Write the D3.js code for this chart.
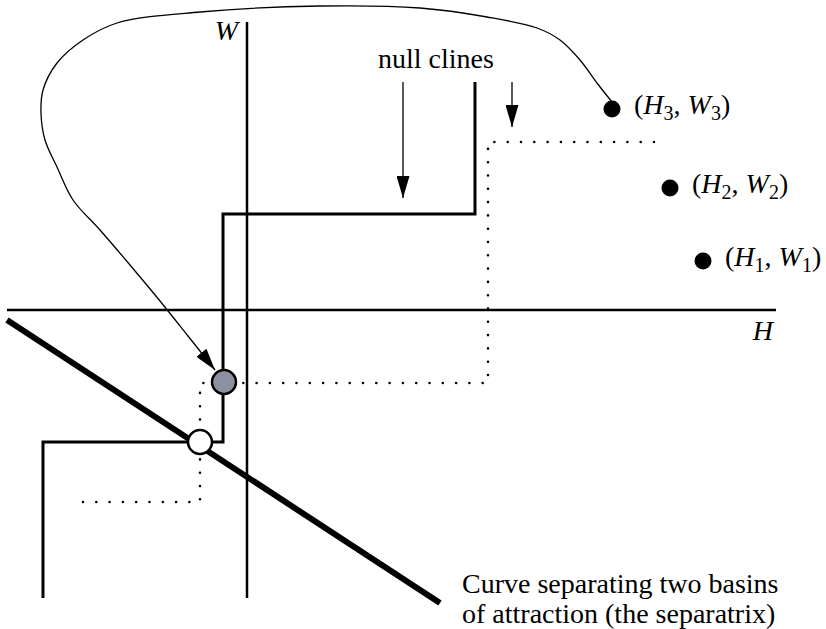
<!DOCTYPE html>
<html>
<head>
<meta charset="utf-8">
<script src="https://cdn.jsdelivr.net/npm/d3@7"></script>
<style>
  html, body { margin: 0; padding: 0; background: #fff; }
  svg text { font-family: "Liberation Serif", "Times New Roman", serif; fill: #000; }
</style>
</head>
<body>
<svg id="chart" width="826" height="629"></svg>
<script>
// ---- data (phase plane units: H horizontal, W vertical) ----
const hAxisRange = [-24.0, 52.9];
const wAxisRange = [-28.8, 28.8];
const solidNullcline = [[-20.4,-28.8],[-20.4,-13.2],[-2.4,-13.2],[-2.4,9.6],[22.8,9.6],[22.8,22.8]];
const dottedNullcline = [[-16.4,-19.2],[-4.7,-19.2],[-4.7,-7.3],[24.1,-7.3],[24.1,16.8],[42.0,16.8]];
const separatrix = [[-24.0,-1.0],[19.3,-29.3]];
const trajectory = [[36.5,20.8],[35.0,22.7],[33.3,25.0],[31.3,27.0],[29.0,28.2],[24.0,29.3],[17.3,30.2],[7.3,30.4],[-4.7,29.8],[-13.0,28.7],[-16.4,27.0],[-19.0,24.7],[-20.4,22.0],[-20.6,19.7],[-20.2,17.0],[-19.0,14.3],[-17.4,11.0],[-14.7,8.0],[-11.7,4.5],[-8.7,0.9],[-5.9,-2.6],[-3.2,-6.0]];
const startPoints = [
  {name:"3", h:36.5, w:20.1},
  {name:"2", h:42.3, w:12.2},
  {name:"1", h:45.6, w:4.9}
];
const stableEq = [-2.3,-7.2];
const unstableEq = [-4.7,-13.2];
const nullclineArrows = [[[15.6,22.8],[15.6,11.2]],[[26.5,22.8],[26.5,18.3]]];
const nullclineLabel = {text:"null clines", h:18.9, w:24.2};
const separatrixLabel = ["Curve separating two basins", "of attraction (the separatrix)"];
const separatrixLabelPos = {h:21.5, w:-28.3};

// ---- scales ----
const x = d3.scaleLinear().domain([-24, 58]).range([7, 827]);
const y = d3.scaleLinear().domain([-31.9, 31]).range([629, 0]);

const svg = d3.select("#chart");
const defs = svg.append("defs");
defs.append("marker").attr("id","ah2").attr("viewBox","0 0 22 13")
  .attr("refX",22).attr("refY",6.5).attr("markerWidth",22).attr("markerHeight",13)
  .attr("markerUnits","userSpaceOnUse").attr("orient","auto")
  .append("path").attr("d","M0,0L22,6.5L0,13Z").attr("fill","#000");

const line = d3.line().x(d => x(d[0])).y(d => y(d[1]));

// axes
svg.append("line").attr("x1", x(hAxisRange[0])).attr("x2", x(hAxisRange[1]))
  .attr("y1", y(0)).attr("y2", y(0)).attr("stroke","#000").attr("stroke-width",2.5);
svg.append("line").attr("x1", x(0)).attr("x2", x(0))
  .attr("y1", y(wAxisRange[0])).attr("y2", y(wAxisRange[1])).attr("stroke","#000").attr("stroke-width",2.5);
svg.append("text").attr("x", x(-0.9)).attr("y", y(27.0)).attr("text-anchor","end")
  .attr("font-size",28).attr("font-style","italic").text("W");
svg.append("text").attr("x", x(52.6)).attr("y", y(-3.0)).attr("text-anchor","end")
  .attr("font-size",28).attr("font-style","italic").text("H");

// nullclines
svg.append("path").attr("d", line(solidNullcline)).attr("fill","none")
  .attr("stroke","#000").attr("stroke-width",3).attr("stroke-linejoin","miter");
svg.append("path").attr("d", line(dottedNullcline)).attr("fill","none")
  .attr("stroke","#000").attr("stroke-width",2.6).attr("stroke-linecap","round")
  .attr("stroke-dasharray","0 13.3");

// separatrix
svg.append("path").attr("d", line(separatrix)).attr("fill","none")
  .attr("stroke","#000").attr("stroke-width",6);

// trajectory
svg.append("path").attr("d", d3.line().x(d=>x(d[0])).y(d=>y(d[1])).curve(d3.curveCatmullRom.alpha(0.5))(trajectory))
  .attr("fill","none").attr("stroke","#000").attr("stroke-width",1.3).attr("marker-end","url(#ah2)");

// nullcline arrows
nullclineArrows.forEach(a => {
  svg.append("path").attr("d", line(a)).attr("fill","none").attr("stroke","#000")
    .attr("stroke-width",1.3).attr("marker-end","url(#ah2)");
});
svg.append("text").attr("x", x(nullclineLabel.h)).attr("y", y(nullclineLabel.w))
  .attr("text-anchor","middle").attr("font-size",28).text(nullclineLabel.text);

// equilibria
svg.append("circle").attr("cx", x(stableEq[0])).attr("cy", y(stableEq[1])).attr("r",12)
  .attr("fill","#8d909f").attr("stroke","#000").attr("stroke-width",2.5);
svg.append("circle").attr("cx", x(unstableEq[0])).attr("cy", y(unstableEq[1])).attr("r",12)
  .attr("fill","#fff").attr("stroke","#000").attr("stroke-width",2.5);

// start points
startPoints.forEach(p => {
  svg.append("circle").attr("cx", x(p.h)).attr("cy", y(p.w)).attr("r",8.5).attr("fill","#000");
  const t = svg.append("text").attr("x", x(p.h) + 22).attr("y", y(p.w) + 5).attr("font-size",28);
  t.append("tspan").text("(");
  t.append("tspan").attr("font-style","italic").text("H");
  t.append("tspan").attr("font-size",20).attr("dy",6).text(p.name);
  t.append("tspan").attr("dy",-6).text(", ");
  t.append("tspan").attr("font-style","italic").text("W");
  t.append("tspan").attr("font-size",20).attr("dy",6).text(p.name);
  t.append("tspan").attr("dy",-6).text(")");
});

// separatrix label
separatrixLabel.forEach((s, i) => {
  svg.append("text").attr("x", x(separatrixLabelPos.h)).attr("y", y(separatrixLabelPos.w) + i*30)
    .attr("font-size",28).text(s);
});
</script>
</body>
</html>
